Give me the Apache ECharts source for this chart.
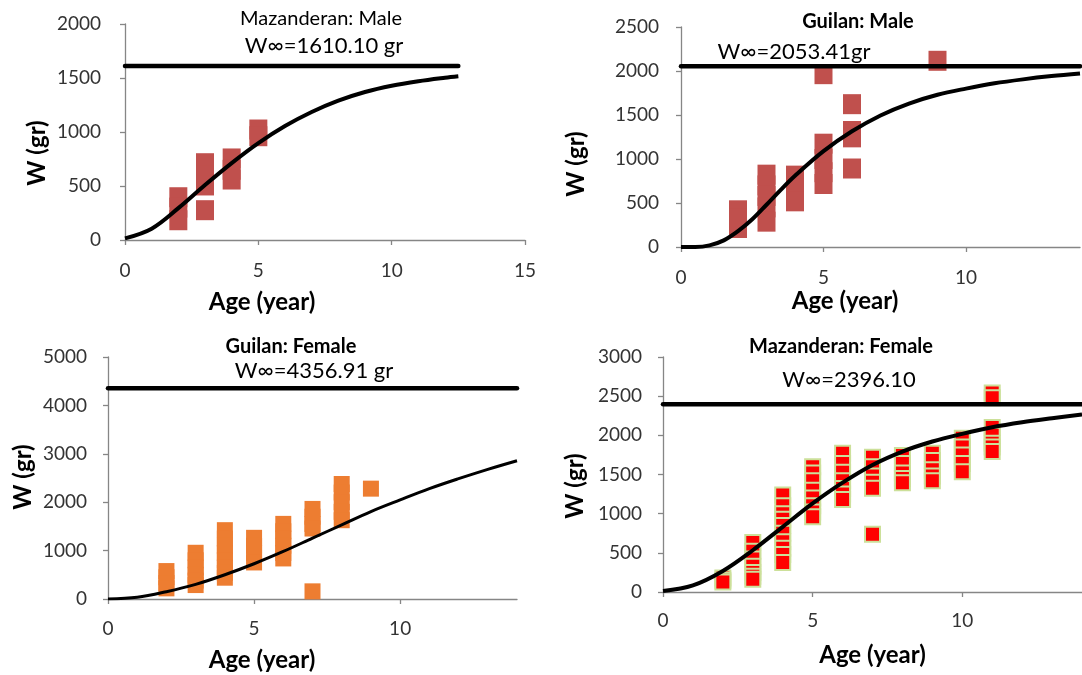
<!DOCTYPE html>
<html><head><meta charset="utf-8">
<script src="https://cdn.jsdelivr.net/npm/echarts@6/dist/echarts.min.js"></script>
<style>html,body{margin:0;padding:0;background:#fff}#c{width:1082px;height:675px}</style>
</head><body><div id="c"></div>
<script>
// ---- observed points [age, weight] ----
const mazMaleObs = [[2,396],[2,300],[2,183],[3,711],[3,600],[3,505],[3,276],[4,755],[4,650],[4,560],[5,1023],[5,961]];
const guiMaleObs = [[2,417],[2,320],[2,216],[3,822],[3,700],[3,580],[3,450],[3,288],[4,811],[4,660],[4,519],
  [5,1174],[5,1000],[5,850],[5,716],[5,1964],[6,1623],[6,1318],[6,1246],[6,892],[9,2116]];
const guiFemObs = [[2,577],[2,450],[2,330],[2,220],[3,955],[3,800],[3,650],[3,500],[3,380],[3,288],
  [4,1422],[4,1250],[4,1100],[4,950],[4,800],[4,650],[4,540],[4,440],[5,1264],[5,1100],[5,950],[5,755],
  [6,1552],[6,1400],[6,1250],[6,1100],[6,950],[6,838],[7,1861],[7,1700],[7,1550],[7,1456],[7,158],
  [8,2376],[8,2200],[8,2000],[8,1800],[8,1628],[9,2280]];
const mazFemObs = [[2,179],[2,150],[2,128],[3,632],[3,520],[3,420],[3,330],[3,250],[3,200],[3,162],
  [4,1238],[4,1100],[4,1000],[4,930],[4,850],[4,750],[4,640],[4,560],[4,480],[4,376],
  [5,1600],[5,1520],[5,1420],[5,1300],[5,1200],[5,1100],[5,1020],[5,960],
  [6,1771],[6,1640],[6,1530],[6,1420],[6,1320],[6,1250],[6,1182],
  [7,1720],[7,1600],[7,1480],[7,1400],[7,1323],[7,738],
  [8,1741],[8,1640],[8,1520],[8,1450],[8,1396],[9,1771],[9,1680],[9,1560],[9,1480],[9,1421],
  [10,1963],[10,1850],[10,1750],[10,1640],[10,1536],[11,2539],[11,2480],[11,2100],[11,2000],[11,1900],[11,1850],[11,1793]];

// ---- fitted growth curves ----
const mazMaleCurveAge = [0,1,2,3,4,5,6,7,8,9,10,11,12,12.5];
const mazMaleCurveW   = [15,105,295,509,712,897,1055,1185,1290,1370,1428,1470,1503,1517];
const guiMaleCurveAge = [0,0.5,1,1.5,2,2.5,3,3.5,4,5,6,7,8,9,10,11,12,13,14];
const guiMaleCurveW   = [0,0,18,75,180,315,480,650,810,1090,1315,1495,1630,1730,1800,1860,1905,1942,1972];
const guiFemCurveAge  = [0,1,2,3,4,5,6,7,8,9,10,11,12,13,14];
const guiFemCurveW    = [0,34,151,302,501,728,982,1257,1532,1806,2047,2280,2486,2679,2857];
const mazFemCurveAge  = [0,1,2,3,4,5,6,7,8,9,10,11,12,13,14];
const mazFemCurveW    = [13,85,269,533,832,1131,1396,1622,1793,1921,2019,2104,2168,2219,2266];

// ---- asymptotes, titles, axes ----
const winf = [1610.10, 2053.41, 4356.91, 2396.10];
const winfEnd = [12.5, 14, 14, 14];
const titles = ['Mazanderan: Male', 'Guilan: Male', 'Guilan: Female', 'Mazanderan: Female'];
const winfLabels = ['W\u221E=1610.10 gr', 'W\u221E=2053.41gr', 'W\u221E=4356.91 gr', 'W\u221E=2396.10'];
const yMax = [2000, 2500, 5000, 3000];
const yInterval = [500, 500, 1000, 500];
const xMax = [15, 14, 14, 14];
const xTickVals = [[0,5,10,15],[0,5,10],[0,5,10],[0,5,10]];
const xName = 'Age (year)';
const yName = 'W (gr)';

const obs = [mazMaleObs, guiMaleObs, guiFemObs, mazFemObs];
const curves = [[mazMaleCurveAge, mazMaleCurveW],[guiMaleCurveAge, guiMaleCurveW],[guiFemCurveAge, guiFemCurveW],[mazFemCurveAge, mazFemCurveW]];

// ---- layout/style ----
const FONT = 'Lato, "Open Sans", sans-serif';
const grids = [
  {left:125, top:24, width:400, height:216},
  {left:681, top:27, width:399, height:220},
  {left:108, top:357, width:409, height:242},
  {left:663, top:357, width:425, height:235}
];
const xLabelMargin = [21, 21, 20, 19];
const yLabelMargin = [24, 22, 21, 21];
const xNameGap = [50, 42, 49, 51];
const xNameShift = [126, 71, 101, 0];
const yNamePos = [[37,153],[576,164],[23,477],[575,486]];
const markerSize = [[18,20],[18,20],[16,16],[15,15]];
const markerColor = ['#C0504D', '#C0504D', '#ED7D31', '#FF0000'];
const curveWidth = [4, 4, 3, 4];
const titleBold = ['normal', 'bold', 'bold', 'bold'];
const titlePos = [[321,19],[858,22],[291,347],[841,347]];
const winfPos = [[324,46],[794,52],[314,371],[849,380]];

const axisCol = '#868686';
const xAxes = [], yAxes = [], series = [], graphic = [];
for (let i = 0; i < 4; i++) {
  xAxes.push({
    type:'value', gridIndex:i, min:0, max:xMax[i], interval:5,
    name:xName, nameLocation:'middle', nameGap:xNameGap[i],
    nameTextStyle:{fontFamily:FONT, fontSize:24, fontWeight:'bold', color:'#000', padding:[0, xNameShift[i], 0, 0]},
    axisLine:{show:true, onZero:false, lineStyle:{color:axisCol, width:1.3}},
    axisTick:{show:true, length:5, customValues:xTickVals[i], lineStyle:{color:axisCol, width:1.3}},
    axisLabel:{customValues:xTickVals[i], margin:xLabelMargin[i], fontFamily:FONT, fontSize:19, color:'#333',
      formatter:(v) => String(v)},
    splitLine:{show:false}
  });
  yAxes.push({
    type:'value', gridIndex:i, min:0, max:yMax[i], interval:yInterval[i],
    axisLine:{show:true, lineStyle:{color:axisCol, width:1.3}},
    axisTick:{show:true, length:5, lineStyle:{color:axisCol, width:1.3}},
    axisLabel:{margin:yLabelMargin[i], fontFamily:FONT, fontSize:19, color:'#333',
      formatter:(v) => String(v)},
    splitLine:{show:false}
  });
  series.push({
    type:'scatter', xAxisIndex:i, yAxisIndex:i, symbol:'rect', symbolSize:markerSize[i],
    data:obs[i], z:2,
    itemStyle: i === 3 ? {color:markerColor[i], borderColor:'#CCE09A', borderWidth:2, opacity:1}
                       : {color:markerColor[i], opacity:1}
  });
  series.push({
    type:'line', xAxisIndex:i, yAxisIndex:i, showSymbol:false, symbol:'none', smooth:0.35,
    data:curves[i][0].map((a, k) => [a, curves[i][1][k]]), z:3,
    lineStyle:{color:'#000', width:curveWidth[i]}
  });
  series.push({
    type:'line', xAxisIndex:i, yAxisIndex:i, showSymbol:false, symbol:'none',
    data:[[0, winf[i]], [winfEnd[i], winf[i]]], z:4,
    lineStyle:{color:'#000', width:4.5, cap:'round'}
  });
  graphic.push({type:'text', x:titlePos[i][0], y:titlePos[i][1], z:10,
    style:{text:titles[i], font:titleBold[i] + ' 20px ' + FONT, fill:'#000', align:'center', verticalAlign:'middle'}});
  graphic.push({type:'text', x:winfPos[i][0], y:winfPos[i][1], z:10,
    style:{text:winfLabels[i], font:'22px ' + FONT, fill:'#000', align:'center', verticalAlign:'middle'}});
  graphic.push({type:'text', x:yNamePos[i][0], y:yNamePos[i][1], rotation:Math.PI / 2, z:10,
    style:{text:yName, font:'bold 24px ' + FONT, fill:'#000', align:'center', verticalAlign:'middle'}});
}

const chart = echarts.init(document.getElementById('c'), null, {renderer:'canvas'});
chart.setOption({
  animation:false,
  backgroundColor:'#fff',
  grid:grids,
  xAxis:xAxes,
  yAxis:yAxes,
  series:series,
  graphic:graphic
});
</script>
</body></html>
